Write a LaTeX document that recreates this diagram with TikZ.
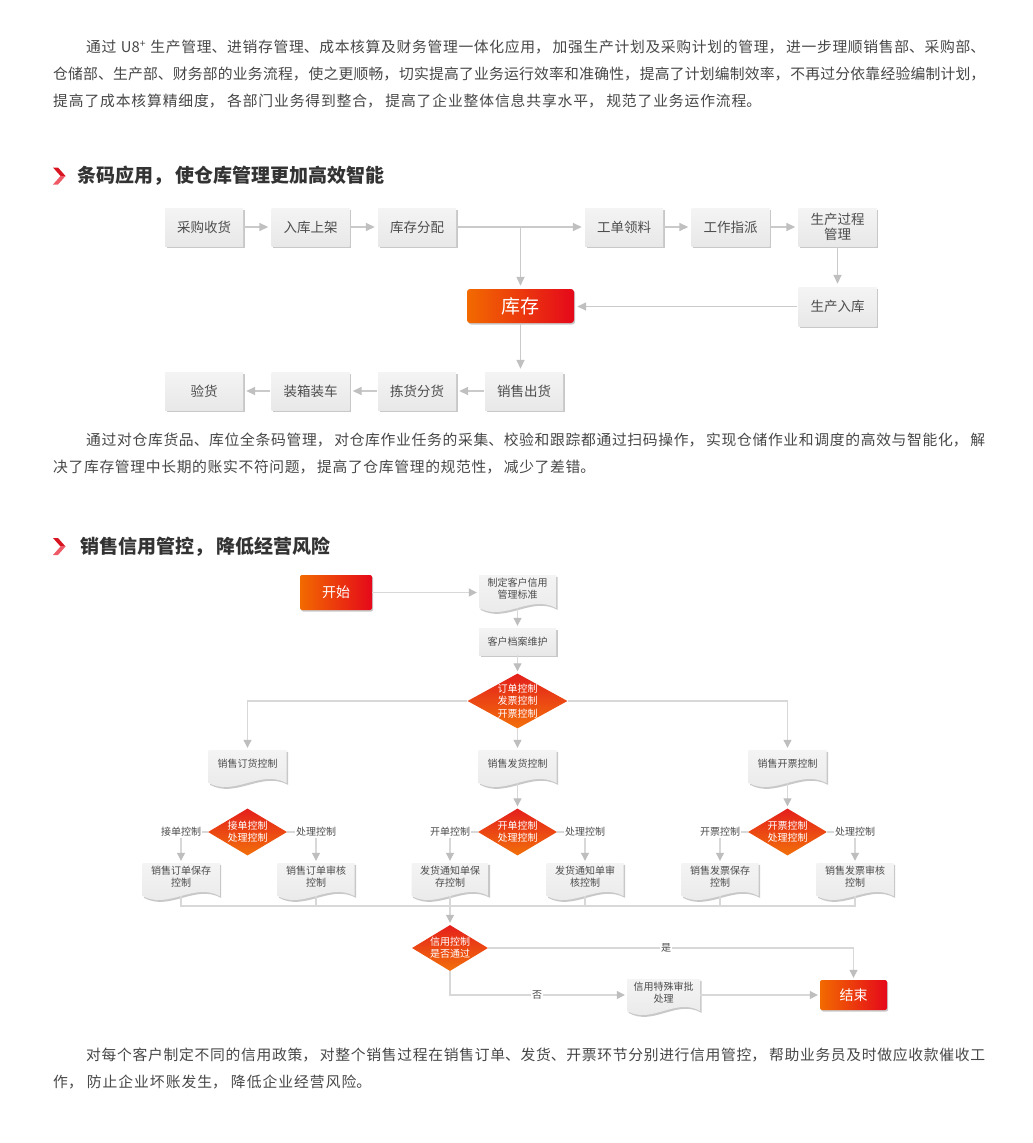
\documentclass[tikz,border=0pt]{standalone}
\usepackage{fontspec}
\setmainfont{Noto Sans CJK SC}
\usetikzlibrary{arrows.meta,shapes.geometric,shadows}
\XeTeXlinebreaklocale "zh"
\XeTeXlinebreakskip=0pt plus 1pt
\definecolor{txt}{HTML}{474747}
\definecolor{headc}{HTML}{333333}
\definecolor{boxtxt}{HTML}{4D4D4D}
\definecolor{boxtop}{HTML}{F4F4F4}
\definecolor{boxbot}{HTML}{E8E8E8}
\definecolor{boxshadow}{HTML}{C8C8C8}
\definecolor{lineA}{HTML}{CACACA}
\definecolor{arrAc}{HTML}{C0C0C0}
\definecolor{lineB}{HTML}{D8D8D8}
\definecolor{arrBc}{HTML}{BEBEBE}
\definecolor{orgc}{HTML}{F26A00}
\definecolor{redc}{HTML}{E5081A}
\definecolor{diatop}{HTML}{E41F1C}
\definecolor{diabot}{HTML}{F2700A}
\definecolor{chevA}{HTML}{D7141F}
\definecolor{chevB}{HTML}{EE5A66}
\newcommand\dou{，\hskip 0pt plus 4pt\relax}
\newcommand\jstart{\tolerance=10000\parfillskip=0pt\leftskip=0pt\rightskip=0pt\relax}
% name, cx, top, w, h, text
\newcommand\docbox[6]{%
  \pgfmathsetmacro\dXl{#2-#4/2}%
  \pgfmathsetmacro\dXr{#2+#4/2}%
  \pgfmathsetmacro\dYb{#3+#5}%
  \pgfmathsetmacro\dCl{#2-#4/6}%
  \pgfmathsetmacro\dCr{#2+#4/6}%
  \pgfmathsetmacro\dYa{#3+#5-14}%
  \pgfmathsetmacro\dYc{#3+#5+14}%
  \pgfmathsetmacro\dYm{#3+#5/2}%
  \begin{scope}[shift={(1.5,1.8)}]
    \fill[boxshadow] (\dXl,#3) -- (\dXr,#3) -- (\dXr,\dYb) .. controls (\dCr,\dYa) and (\dCl,\dYc) .. (\dXl,\dYb) -- cycle;
  \end{scope}
  \shade[top color=boxtop, bottom color=boxbot] (\dXl,#3) -- (\dXr,#3) -- (\dXr,\dYb) .. controls (\dCr,\dYa) and (\dCl,\dYc) .. (\dXl,\dYb) -- cycle;
  \node[anchorbox, minimum width=#4pt, minimum height=#5pt] (#1) at (#2,\dYm) {};
  \node[doctext] (#1t) at (#2,\dYm-2.5) {#6};
}
\begin{document}
\begin{tikzpicture}[x=1pt,y=-1pt,
  para/.style={anchor=base west, inner sep=0pt, text=txt, font=\fontsize{14.8}{20}\selectfont},
  jline/.style={para, align=justify},
  headt/.style={anchor=base west, inner sep=0pt, text=headc, font=\fontsize{19}{22}\selectfont\bfseries},
  boxA/.style={rectangle, inner sep=0pt, minimum width=78pt, minimum height=38pt, top color=boxtop, bottom color=boxbot, text=boxtxt, align=center, font=\fontsize{13.5}{15}\selectfont, drop shadow={shadow xshift=1.6pt, shadow yshift=-1.8pt, fill=boxshadow, opacity=1}},
  boxB/.style={rectangle, inner sep=0pt, minimum width=77pt, minimum height=27pt, top color=boxtop, bottom color=boxbot, text=boxtxt, align=center, font=\fontsize{10}{12}\selectfont, drop shadow={shadow xshift=1.5pt, shadow yshift=-1.8pt, fill=boxshadow, opacity=1}},
  hot/.style={rectangle, rounded corners=3pt, inner sep=0pt, left color=orgc, right color=redc, text=white, drop shadow={shadow xshift=1.2pt, shadow yshift=-1.5pt, fill=boxshadow, opacity=1}},
  anchorbox/.style={rectangle, inner sep=0pt, draw=none},
  doctext/.style={inner sep=0pt, align=center, text=boxtxt, font=\fontsize{10}{12}\selectfont},
  dia/.style={diamond, inner sep=0pt, top color=diatop, bottom color=diabot, draw=none},
  diatext/.style={inner sep=0pt, align=center, text=white, font=\fontsize{10}{12.3}\selectfont},
  lbl/.style={inner sep=1pt, text=boxtxt, font=\fontsize{10}{12}\selectfont},
  flowA/.style={draw=lineA, line width=1.5pt, -{Triangle[length=9pt,width=8pt,color=arrAc]}, shorten >=3pt, shorten <=1pt},
  flowB/.style={draw=lineB, line width=1.1pt, -{Triangle[length=8pt,width=8pt,color=arrBc]}, shorten >=2pt},
  plainB/.style={draw=lineB, line width=1.1pt}
]
\fill[white] (0,0) rectangle (1033,1143);
\useasboundingbox (0,0) rectangle (1033,1143);

% ---------- paragraph 1 ----------
\node[jline, text width=899pt] (p1a) at (86,52.5) {\jstart 通过 U8\textsuperscript{+} 生产管理、进销存管理、成本核算及财务管理一体化应用\dou 加强生产计划及采购计划的管理\dou 进一步理顺销售部、采购部、\par};
\node[jline, text width=932pt] (p1b) at (53,79.5) {\jstart 仓储部、生产部、财务部的业务流程\dou 使之更顺畅\dou 切实提高了业务运行效率和准确性\dou 提高了计划编制效率\dou 不再过分依靠经验编制计划\dou\par};
\node[jline, text width=708pt] (p1c) at (53,106.5) {\jstart 提高了成本核算精细度\dou 各部门业务得到整合\dou 提高了企业整体信息共享水平\dou 规范了业务运作流程。\par};

% ---------- heading 1 ----------
\fill[chevA] (53,167.5) -- (58,167.5) -- (65.5,176) -- (60.5,176) -- cycle;
\fill[chevB] (60.5,176) -- (65.5,176) -- (58,184.5) -- (53,184.5) -- cycle;
\node[headt] (h1) at (77,182.8) {条码应用，\hspace{3pt}使仓库管理更加高效智能};

% ---------- diagram 1 ----------
\node[boxA] (cg) at (204,227) {采购收货};
\node[boxA] (rk) at (310.5,227) {入库上架};
\node[boxA] (kf) at (417,227) {库存分配};
\node[boxA] (gd) at (624,227) {工单领料};
\node[boxA] (gz) at (730.5,227) {工作指派};
\node[boxA] (sc) at (837.5,227) {生产过程\\管理};
\node[hot, minimum width=107pt, minimum height=34pt, font=\fontsize{19}{22}\selectfont] (kc) at (520.5,306) {库存};
\node[boxA, minimum height=39pt] (rk2) at (837.5,306.5) {生产入库};
\node[boxA] (xs) at (524,391) {销售出货};
\node[boxA] (jh) at (417,391) {拣货分货};
\node[boxA] (zx) at (310.5,391) {装箱装车};
\node[boxA] (yh) at (204,391) {验货};

\draw[flowA] (cg) -- (rk);
\draw[flowA] (rk) -- (kf);
\draw[flowA] (kf) -- (gd);
\draw[flowA] (gd) -- (gz);
\draw[flowA] (gz) -- (sc);
\draw[flowA] (sc) -- (rk2);
\draw[flowA] (rk2.west) -- (rk2.west -| kc.east);
\coordinate (jA) at (kc.north |- kf.east);
\draw[flowA, shorten <=0pt] (jA) -- (kc.north);
\draw[flowA] (kc.south) -- (kc.south |- xs.north);
\draw[flowA] (xs) -- (jh);
\draw[flowA] (jh) -- (zx);
\draw[flowA] (zx) -- (yh);

% ---------- paragraph 2 ----------
\node[jline, text width=899pt] (p2a) at (86,445.5) {\jstart 通过对仓库货品、库位全条码管理\dou 对仓库作业任务的采集、校验和跟踪都通过扫码操作\dou 实现仓储作业和调度的高效与智能化\dou 解\par};
\node[jline, text width=542pt] (p2b) at (53,472.5) {\jstart 决了库存管理中长期的账实不符问题\dou 提高了仓库管理的规范性\dou 减少了差错。\par};

% ---------- heading 2 ----------
\fill[chevA] (53,538) -- (58,538) -- (65.5,546.5) -- (60.5,546.5) -- cycle;
\fill[chevB] (60.5,546.5) -- (65.5,546.5) -- (58,555) -- (53,555) -- cycle;
\node[headt] (h2) at (80,553.3) {销售信用管控，\hspace{3pt}降低经营风险};

% ---------- diagram 2 ----------
\node[hot, minimum width=72pt, minimum height=35pt, rounded corners=2pt, font=\fontsize{14}{16}\selectfont] (ks) at (336,592.5) {开始};
\docbox{zd}{517.5}{575}{77}{33}{制定客户信用\\管理标准}
\node[boxB] (da) at (517.5,641.5) {客户档案维护};
\node[dia, minimum width=100pt, minimum height=55pt] (dm1) at (517.5,701) {};
\node[diatext] (dm1t) at (dm1) {订单控制\\发票控制\\开票控制};
\docbox{xd}{247.5}{750}{78}{33}{销售订货控制}
\docbox{xf}{517.5}{750}{78}{33}{销售发货控制}
\docbox{xk}{787.5}{750}{78}{33}{销售开票控制}

\node[dia, minimum width=79pt, minimum height=47pt] (dA) at (247.5,832) {};
\node[diatext, font=\fontsize{10}{12}\selectfont] (dAt) at (dA) {接单控制\\处理控制};
\node[dia, minimum width=79pt, minimum height=47pt] (dB) at (517.5,832) {};
\node[diatext, font=\fontsize{10}{12}\selectfont] (dBt) at (dB) {开单控制\\处理控制};
\node[dia, minimum width=79pt, minimum height=47pt] (dC) at (787.5,832) {};
\node[diatext, font=\fontsize{10}{12}\selectfont] (dCt) at (dC) {开票控制\\处理控制};

\node[lbl] (lA1) at (181,832) {接单控制};
\node[lbl] (lA2) at (316,832) {处理控制};
\node[lbl] (lB1) at (450,832) {开单控制};
\node[lbl] (lB2) at (585,832) {处理控制};
\node[lbl] (lC1) at (720,832) {开票控制};
\node[lbl] (lC2) at (855,832) {处理控制};

\docbox{bA1}{181}{863}{77}{33}{销售订单保存\\控制}
\docbox{bA2}{316}{863}{77}{33}{销售订单审核\\控制}
\docbox{bB1}{450}{863}{77}{33}{发货通知单保\\存控制}
\docbox{bB2}{585}{863}{77}{33}{发货通知单审\\核控制}
\docbox{bC1}{720}{863}{77}{33}{销售发票保存\\控制}
\docbox{bC2}{855}{863}{77}{33}{销售发票审核\\控制}

\node[dia, minimum width=76pt, minimum height=46pt] (dm2) at (450,948) {};
\node[diatext, font=\fontsize{10}{12}\selectfont] (dm2t) at (dm2) {信用控制\\是否通过};
\docbox{tp}{663.5}{979}{73}{32}{信用特殊审批\\处理}
\node[hot, minimum width=67pt, minimum height=30pt, rounded corners=2pt, font=\fontsize{14}{16}\selectfont] (js) at (853.5,995) {结束};

\draw[flowB] (ks.east) -- (ks.east -| zd.west);
\draw[flowB] (zd) -- (da);
\draw[flowB] (da) -- (dm1);
\draw[flowB] (dm1) -- (xf);
\draw[flowB] (dm1.west) -| (xd.north);
\draw[flowB] (dm1.east) -| (xk.north);
\draw[flowB] (xf) -- (dB);
\draw[flowB] (xk) -- (dC);

\draw[plainB] (dA.west) -- (lA1.east);
\draw[plainB] (dA.east) -- (lA2.west);
\draw[plainB] (dB.west) -- (lB1.east);
\draw[plainB] (dB.east) -- (lB2.west);
\draw[plainB] (dC.west) -- (lC1.east);
\draw[plainB] (dC.east) -- (lC2.west);
\draw[flowB] (lA1.south) -- (bA1.north);
\draw[flowB] (lA2.south) -- (bA2.north);
\draw[flowB] (lB1.south) -- (bB1.north);
\draw[flowB] (lB2.south) -- (bB2.north);
\draw[flowB] (lC1.south) -- (bC1.north);
\draw[flowB] (lC2.south) -- (bC2.north);

\coordinate (bus) at (0,906);
\draw[plainB] (bA1.south) -- (bA1.south |- bus) -- (bC2.south |- bus) -- (bC2.south);
\draw[plainB] (bA2.south) -- (bA2.south |- bus);
\draw[plainB] (bB2.south) -- (bB2.south |- bus);
\draw[plainB] (bC1.south) -- (bC1.south |- bus);
\draw[flowB] (bB1.south) -- (dm2.north);

\draw[flowB] (dm2.east) -| (js.north);
\node[lbl, fill=white] (shi) at (666,948) {是};
\draw[flowB] (dm2.south) |- (tp.west);
\node[lbl, fill=white] (fou) at (537,995) {否};
\draw[flowB] (tp.east) -- (js.west);

% ---------- paragraph 3 ----------
\node[jline, text width=899pt] (p3a) at (86,1060.5) {\jstart 对每个客户制定不同的信用政策\dou 对整个销售过程在销售订单、发货、开票环节分别进行信用管控\dou 帮助业务员及时做应收款催收工\par};
\node[jline, text width=318pt] (p3b) at (53,1087.5) {\jstart 作\dou 防止企业坏账发生\dou 降低企业经营风险。\par};
\end{tikzpicture}
\end{document}
